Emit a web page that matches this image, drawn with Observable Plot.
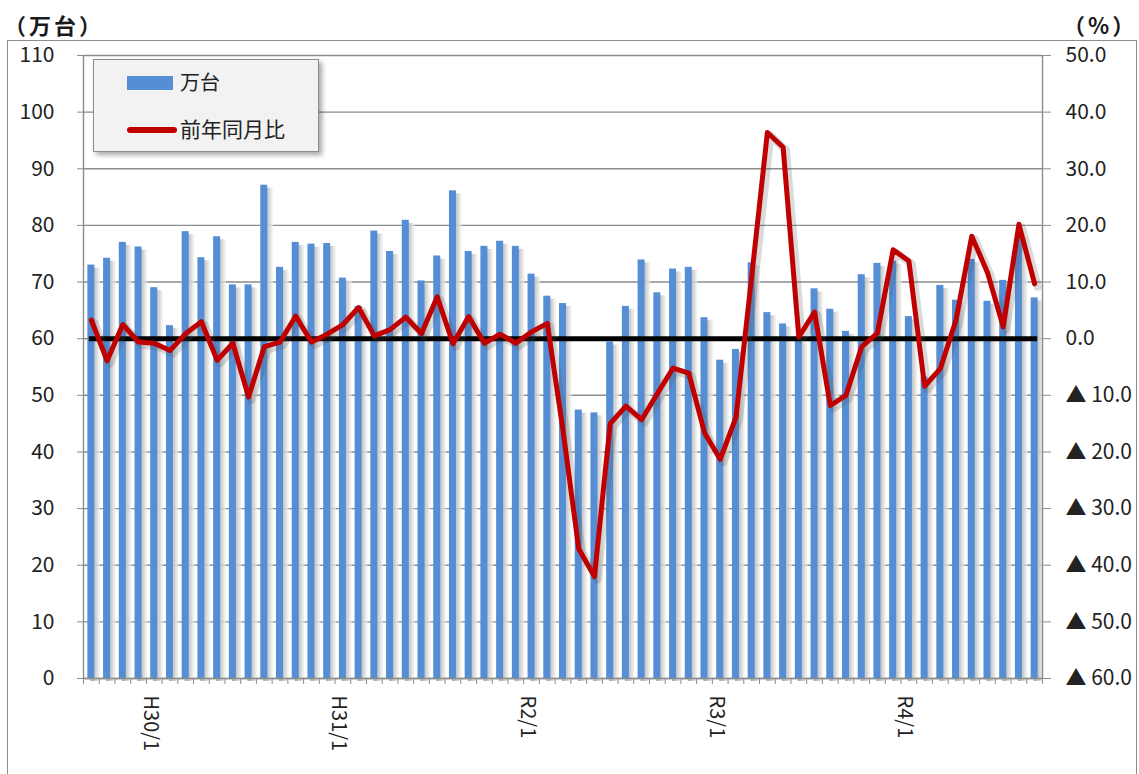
<!DOCTYPE html>
<html>
<head>
<meta charset="utf-8">
<script src="https://cdn.jsdelivr.net/npm/d3@7"></script>
<script src="https://cdn.jsdelivr.net/npm/@observablehq/plot@0.6"></script>
<style>
  html, body { margin: 0; padding: 0; background: #fff; }
  #wrap { position: relative; width: 1139px; height: 774px; overflow: hidden;
          font-family: "Noto Sans CJK JP", "Noto Sans", sans-serif; color: #222; }
  #frame { position: absolute; left: 7px; top: 40px; width: 1130px; height: 800px;
           border: 1.5px solid #8c8c8c; box-sizing: border-box; }
  #chart { position: absolute; left: 0; top: 0; }
  .unit { position: absolute; font-size: 22px; line-height: 22px; letter-spacing: 3px; white-space: nowrap; font-weight: bold; color: #1a1a1a; }
  #legend { position: absolute; left: 93px; top: 59px; width: 226px; height: 93px;
            background: #f2f2f2; border: 1.5px solid #8c8c8c; box-sizing: border-box;
            box-shadow: 3px 3px 5px rgba(0,0,0,0.35); }
  #legend .sw { position: absolute; }
  #legend .lt { position: absolute; left: 86px; font-size: 20px; line-height: 20px; white-space: nowrap; }
</style>
</head>
<body>
<div id="wrap">
  <div id="frame"></div>
  <div id="chart"></div>
  <div class="unit" style="left:4px; top:13px;">（万台）</div>
  <div class="unit" style="left:1063px; top:13px;">（%）</div>
  <div id="legend"></div>
</div>
<script>
// ---- data ----
const months = [
  "H29/9","H29/10","H29/11","H29/12",
  "H30/1","H30/2","H30/3","H30/4","H30/5","H30/6","H30/7","H30/8","H30/9","H30/10","H30/11","H30/12",
  "H31/1","H31/2","H31/3","H31/4","R1/5","R1/6","R1/7","R1/8","R1/9","R1/10","R1/11","R1/12",
  "R2/1","R2/2","R2/3","R2/4","R2/5","R2/6","R2/7","R2/8","R2/9","R2/10","R2/11","R2/12",
  "R3/1","R3/2","R3/3","R3/4","R3/5","R3/6","R3/7","R3/8","R3/9","R3/10","R3/11","R3/12",
  "R4/1","R4/2","R4/3","R4/4","R4/5","R4/6","R4/7","R4/8","R4/9"
];
// 万台
const units = [
  73.0, 74.2, 77.0, 76.2,
  69.0, 62.3, 78.9, 74.3, 78.0, 69.5, 69.5, 87.1, 72.6, 77.0, 76.7, 76.8,
  70.7, 65.7, 79.0, 75.4, 80.9, 70.2, 74.6, 86.1, 75.4, 76.3, 77.2, 76.3,
  71.4, 67.5, 66.2, 47.4, 46.9, 59.4, 65.7, 73.9, 68.1, 72.3, 72.6, 63.7,
  56.2, 58.1, 73.4, 64.6, 62.6, 59.6, 68.8, 65.2, 61.3, 71.3, 73.3, 73.7,
  63.9, 53.2, 69.4, 66.8, 74.0, 66.6, 70.3, 78.3, 67.2
];
// 前年同月比 (%)
const yoy = [
  3.3, -3.9, 2.5, -0.6,
  -0.8, -2.1, 0.9, 3.0, -3.8, -0.8, -10.3, -1.4, -0.6, 4.0, -0.6, 0.8,
  2.5, 5.5, 0.5, 1.6, 3.8, 0.9, 7.4, -0.9, 3.9, -0.8, 0.8, -0.8,
  1.2, 2.7, -16.2, -37.1, -42.0, -15.0, -11.9, -14.3, -9.7, -5.2, -6.1, -16.6,
  -21.3, -13.9, 10.9, 36.4, 33.8, 0.3, 4.7, -11.8, -10.0, -1.4, 1.0, 15.7,
  13.7, -8.4, -5.3, 3.3, 18.1, 11.7, 2.1, 20.2, 9.7
];
const xTickLabels = ["H30/1", "H31/1", "R2/1", "R3/1", "R4/1"];
const leftTicks = [0, 10, 20, 30, 40, 50, 60, 70, 80, 90, 100, 110];
const pctTicks = [50, 40, 30, 20, 10, 0, -10, -20, -30, -40, -50, -60];
const legendItems = [
  {name: "万台", kind: "bar"},
  {name: "前年同月比", kind: "line"}
];

// ---- styling ----
const BLUE = "#558ED5";
const RED = "#C00000";
const GRID = "#8c8c8c";

// dual axis: 0% sits on 60万台, 10% per 10万台
const pctToY = p => p + 60;
const yToPct = y => y - 60;
const fmtPct = y => {
  const p = Math.round(yToPct(y) * 10) / 10;
  return p < 0 ? "▲ " + (-p).toFixed(1) : p.toFixed(1);
};

const n = months.length;
const data = months.map((m, i) => ({i, m, v: units[i], p: yoy[i]}));
const labelRows = data.filter(d => xTickLabels.includes(d.m));
const labelAt = new Map(labelRows.map(d => [d.i + 0.5, d.m]));

const svg = Plot.plot({
  width: 1139,
  height: 774,
  marginLeft: 83,
  marginRight: 97,
  marginTop: 55,
  marginBottom: 96,
  x: {type: "linear", domain: [0, n]},
  y: {domain: [0, 110]},
  style: {fontFamily: '"Noto Sans CJK JP", "Noto Sans", sans-serif', fontSize: "21px", color: "#222", background: "transparent", overflow: "visible"},
  marks: [
    Plot.gridY(leftTicks, {stroke: GRID, strokeOpacity: 1, strokeWidth: 1.4}),
    // bar shadows
    Plot.rectY(data, {x1: "i", x2: d => d.i + 1, y1: () => 0, y2: "v",
      insetLeft: 4.36, insetRight: 1.6, dx: 3, dy: 3, fill: "url(#barShadow)"}),
    // bars
    Plot.rectY(data, {x1: "i", x2: d => d.i + 1, y1: () => 0, y2: "v",
      insetLeft: 4.36, insetRight: 4.36, fill: BLUE}),
    // axis lines
    Plot.ruleX([0, n], {stroke: GRID, strokeWidth: 1.4}),
    Plot.ruleY([0], {stroke: GRID, strokeWidth: 1.4}),
    // 0% reference line
    Plot.line(data, {x: d => d.i + 0.5, y: () => pctToY(0), stroke: "#000", strokeWidth: 5, strokeLinecap: "square"}),
    // YoY line shadow + line
    Plot.line(data, {x: d => d.i + 0.5, y: d => pctToY(d.p), stroke: "#555", strokeOpacity: 0.22,
      strokeWidth: 8, dx: 3, dy: 3, strokeLinejoin: "round", strokeLinecap: "round"}),
    Plot.line(data, {x: d => d.i + 0.5, y: d => pctToY(d.p), stroke: RED,
      strokeWidth: 5, strokeLinejoin: "round", strokeLinecap: "round"}),
    // axes
    Plot.axisY({anchor: "left", ticks: leftTicks, tickSize: 6, tickPadding: 23, fontSize: 21,
      stroke: GRID, fill: "#222", label: null}),
    Plot.axisY({anchor: "right", ticks: pctTicks.map(pctToY), tickSize: 8, tickPadding: 15, fontSize: 21,
      tickFormat: fmtPct, stroke: GRID, fill: "#222", label: null}),
    Plot.axisX({ticks: d3.range(0, n + 1), tickSize: 6, tickFormat: () => "", stroke: GRID, label: null}),
    Plot.axisX({ticks: [...labelAt.keys()], tickSize: 0, tickPadding: 17, tickRotate: 90,
      tickFormat: v => labelAt.get(v), fontSize: 20, fill: "#222", dx: -4, label: null})
  ]
});

// gradient for bar shadows
const ns = "http://www.w3.org/2000/svg";
const defs = document.createElementNS(ns, "defs");
defs.innerHTML = '<linearGradient id="barShadow" x1="0" x2="1" y1="0" y2="0">' +
  '<stop offset="0" stop-color="#a4a4a4" stop-opacity="1"/>' +
  '<stop offset="0.6" stop-color="#cfcfcf" stop-opacity="0.9"/>' +
  '<stop offset="1" stop-color="#f2f2f2" stop-opacity="0.6"/></linearGradient>';
svg.insertBefore(defs, svg.firstChild);
document.getElementById("chart").appendChild(svg);

// legend
const lg = document.getElementById("legend");
legendItems.forEach((it, k) => {
  const sw = document.createElement("div");
  sw.className = "sw";
  if (it.kind === "bar") {
    Object.assign(sw.style, {left: "33px", top: "16px", width: "46px", height: "14px", background: BLUE});
  } else {
    Object.assign(sw.style, {left: "33px", top: "67px", width: "50px", height: "6px", background: RED, borderRadius: "3px"});
  }
  lg.appendChild(sw);
  const t = document.createElement("div");
  t.className = "lt";
  t.textContent = it.name;
  t.style.top = (k === 0 ? 12 : 58) + "px";
  if (k === 1) t.style.fontSize = "21px";
  lg.appendChild(t);
});
</script>
</body>
</html>
